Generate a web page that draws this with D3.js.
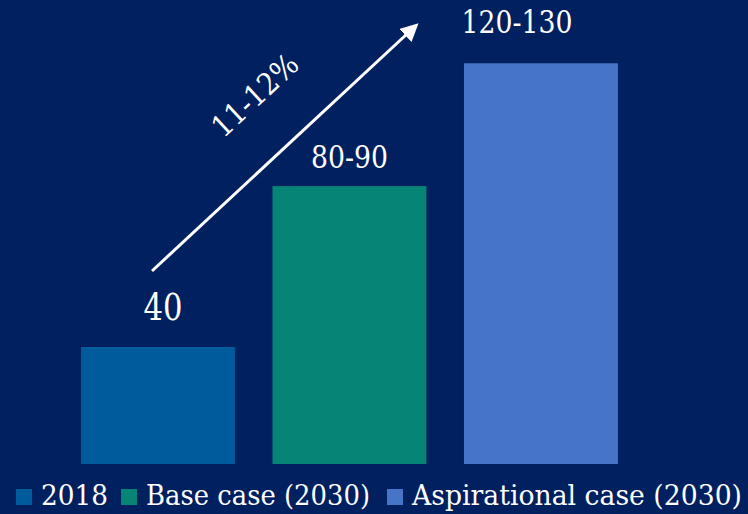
<!DOCTYPE html>
<html lang="en">
<head>
    <meta charset="UTF-8">
    <title>Growth scenarios</title>
    <style>
        body { margin: 0; background: #00205f; }
        svg text { font-family: "DejaVu Serif", "Liberation Serif", serif; fill: #fff; }
    </style>
    <script src="https://d3js.org/d3.v7.min.js"></script>
</head>
<body>
    <script>
        var width = 748, height = 514;

        // data
        var categories = ["2018", "Base case (2030)", "Aspirational case (2030)"];
        var values = [40, 95, 137];
        var labels = ["40", "80-90", "120-130"];
        var colors = ["#005b9c", "#068476", "#4674c6"];
        var growthLabel = "11-12%";

        var svg = d3.select("body").append("svg")
            .attr("width", width)
            .attr("height", height)
            .style("display", "block")
            .style("background", "#00205f");

        var x = d3.scaleBand()
            .domain(categories)
            .range([62.2, 636.7])
            .paddingInner(0.196)
            .paddingOuter(0.098);

        var y = d3.scaleLinear()
            .domain([0, 140])
            .range([464, 54.5]);

        // bars
        svg.selectAll(".bar").data(categories).enter().append("rect")
            .attr("class", "bar")
            .attr("x", function (d) { return x(d); })
            .attr("y", function (d, i) { return y(values[i]); })
            .attr("width", x.bandwidth())
            .attr("height", function (d, i) { return y(0) - y(values[i]); })
            .attr("fill", function (d, i) { return colors[i]; });

        // value labels (hand placed in the original, so small nudges)
        var labelDx = [5, 0, -24];
        var labelSize = [37, 31, 31];
        var labelLen = [39, 77, 111];
        var labelGap = [27, 18, 30];
        svg.selectAll(".vlabel").data(categories).enter().append("text")
            .attr("class", "vlabel")
            .attr("x", function (d, i) { return x(d) + x.bandwidth() / 2 + labelDx[i] - labelLen[i] / 2; })
            .attr("y", function (d, i) { return y(values[i]) - labelGap[i]; })
            .attr("font-size", function (d, i) { return labelSize[i] + "px"; })
            .attr("textLength", function (d, i) { return labelLen[i]; })
            .attr("lengthAdjust", "spacingAndGlyphs")
            .text(function (d, i) { return labels[i]; });

        // growth arrow
        svg.append("defs").append("marker")
            .attr("id", "head")
            .attr("viewBox", "0 0 10 10")
            .attr("refX", 2).attr("refY", 5)
            .attr("markerWidth", 6).attr("markerHeight", 6)
            .attr("orient", "auto")
            .append("path")
            .attr("d", "M0,0 L10,5 L0,10 Z")
            .attr("fill", "#fff");

        var ax0 = 152, ay0 = 271, ax1 = 408, ay1 = 33;
        svg.append("line")
            .attr("x1", ax0).attr("y1", ay0)
            .attr("x2", ax1).attr("y2", ay1)
            .attr("stroke", "#fff")
            .attr("stroke-width", 3)
            .attr("marker-end", "url(#head)");

        var ang = Math.atan2(ay1 - ay0, ax1 - ax0) * 180 / Math.PI;
        svg.append("text")
            .attr("transform", "translate(262,103) rotate(" + ang + ")")
            .attr("text-anchor", "middle")
            .attr("font-size", "30px")
            .attr("textLength", 106)
            .attr("lengthAdjust", "spacingAndGlyphs")
            .text(growthLabel);

        // legend
        var legX = [16, 121, 387];
        var legLen = [67, 224, 330];
        var leg = svg.selectAll(".leg").data(categories).enter().append("g")
            .attr("class", "leg")
            .attr("transform", function (d, i) { return "translate(" + legX[i] + ",0)"; });
        leg.append("rect")
            .attr("x", 0).attr("y", 489)
            .attr("width", 16).attr("height", 16)
            .attr("fill", function (d, i) { return colors[i]; });
        leg.append("text")
            .attr("x", 25).attr("y", 505)
            .attr("font-size", "28px")
            .attr("textLength", function (d, i) { return legLen[i]; })
            .attr("lengthAdjust", "spacingAndGlyphs")
            .text(function (d) { return d; });
    </script>
</body>
</html>
